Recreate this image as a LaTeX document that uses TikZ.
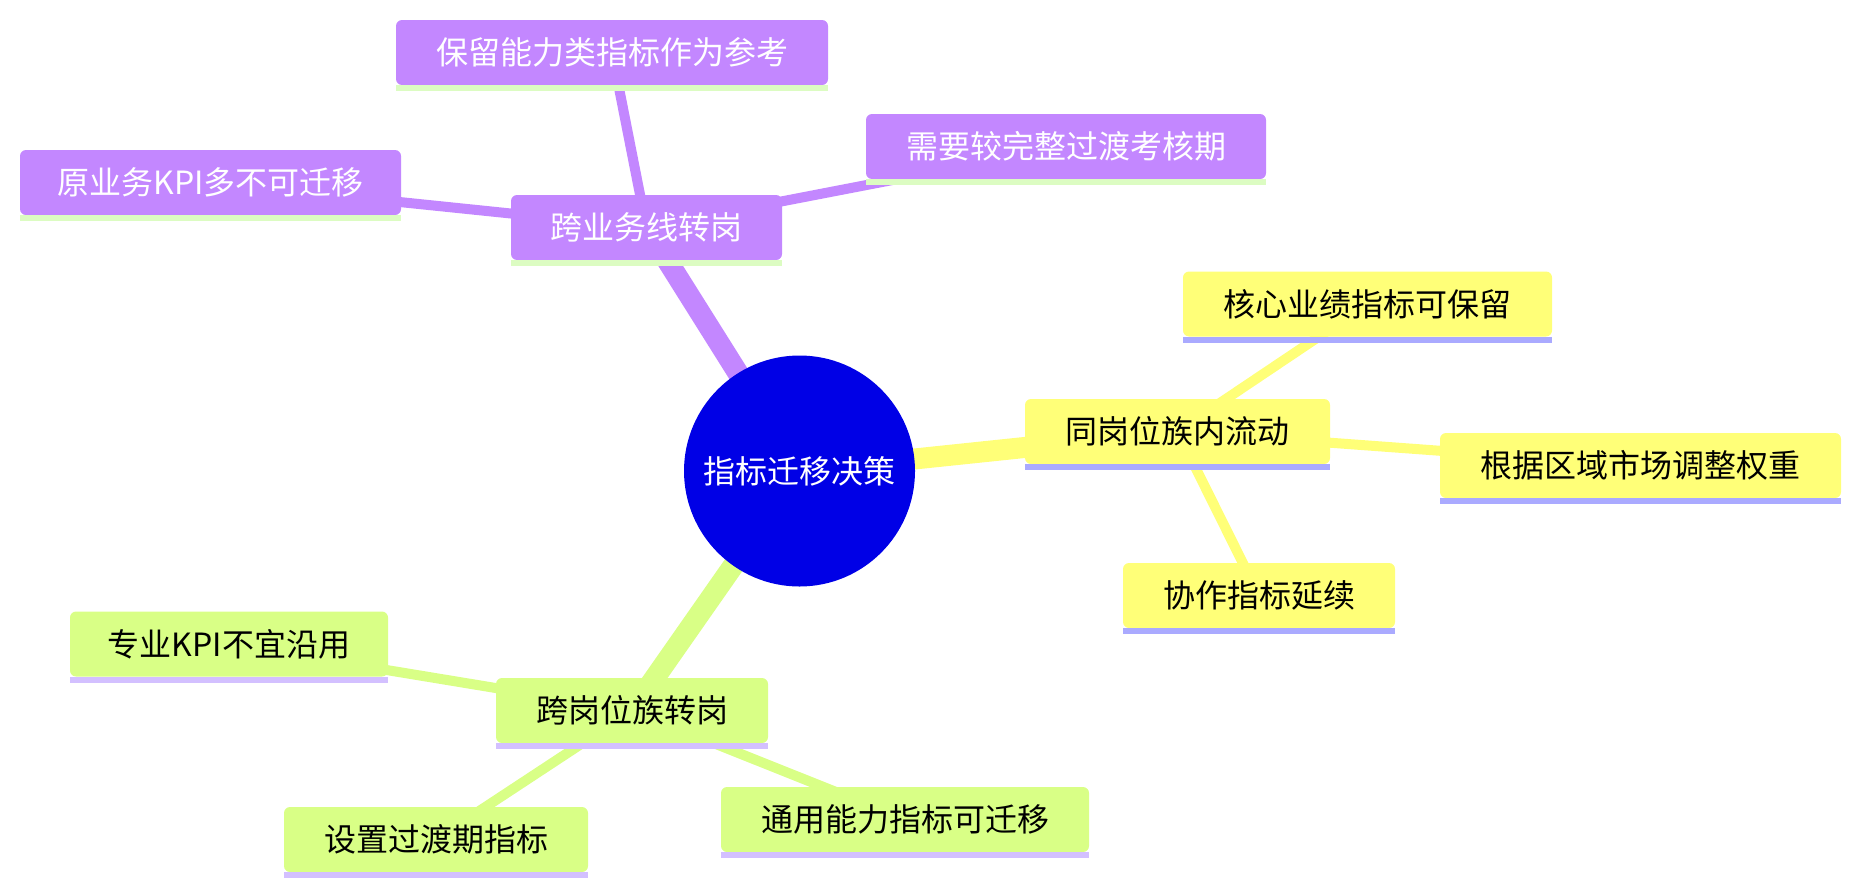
\documentclass[tikz,border=0pt]{standalone}
\usepackage{fontspec}
\setmainfont{Noto Sans CJK SC}
\usetikzlibrary{backgrounds}
\definecolor{croot}{HTML}{0000E6}
\definecolor{cpur}{HTML}{C387FF}
\definecolor{cyel}{HTML}{FFFF78}
\definecolor{cgrn}{HTML}{D9FF86}
\definecolor{ulpur}{HTML}{DCFCC2}
\definecolor{ulyel}{HTML}{AAAAFF}
\definecolor{ulgrn}{HTML}{D3C0FF}
\begin{document}
\begin{tikzpicture}[x=1pt,y=-1pt,
  box/.style={rounded corners=6pt, minimum height=65pt, inner sep=0pt, font=\fontsize{32}{38}\selectfont},
  pbox/.style={box, fill=cpur, text=white},
  ybox/.style={box, fill=cyel, text=black},
  gbox/.style={box, fill=cgrn, text=black},
  rootnode/.style={circle, fill=croot, text=white, minimum size=231pt, inner sep=0pt, font=\fontsize{32}{38}\selectfont},
  rootedge/.style={line width=21pt},
  childedge/.style={line width=10pt},
]
\useasboundingbox (0,0) rectangle (1860,894);
\node[rootnode] (root) at (799.5,471) {指标迁移决策};

\node[pbox, minimum width=271pt] (p) at (646.5,227.5) {跨业务线转岗};
\node[pbox, minimum width=432pt] (p1) at (612,52.5) {保留能力类指标作为参考};
\node[pbox, minimum width=381pt] (p2) at (210.5,182.5) {原业务KPI多不可迁移};
\node[pbox, minimum width=400pt] (p3) at (1066,146.5) {需要较完整过渡考核期};

\node[ybox, minimum width=305pt] (y) at (1177.5,431.5) {同岗位族内流动};
\node[ybox, minimum width=369pt] (y1) at (1367.5,304) {核心业绩指标可保留};
\node[ybox, minimum width=401pt] (y2) at (1640.5,465.5) {根据区域市场调整权重};
\node[ybox, minimum width=272pt] (y3) at (1259,595.5) {协作指标延续};

\node[gbox, minimum width=272pt] (g) at (632,710.5) {跨岗位族转岗};
\node[gbox, minimum width=318pt] (g1) at (229,644) {专业KPI不宜沿用};
\node[gbox, minimum width=304pt] (g2) at (436,839.5) {设置过渡期指标};
\node[gbox, minimum width=368pt] (g3) at (905,819.5) {通用能力指标可迁移};

\foreach \n in {p,p1,p2,p3}{\fill[ulpur] (\n.south west) rectangle ([yshift=-6pt]\n.south east);}
\foreach \n in {y,y1,y2,y3}{\fill[ulyel] (\n.south west) rectangle ([yshift=-6pt]\n.south east);}
\foreach \n in {g,g1,g2,g3}{\fill[ulgrn] (\n.south west) rectangle ([yshift=-6pt]\n.south east);}

\begin{scope}[on background layer]
\draw[rootedge, cpur] (root.center) -- (p.center);
\draw[rootedge, cyel] (root.center) -- (y.center);
\draw[rootedge, cgrn] (root.center) -- (g.center);
\draw[childedge, cpur] (p.center) -- (p1.center);
\draw[childedge, cpur] (p.center) -- (p2.center);
\draw[childedge, cpur] (p.center) -- (p3.center);
\draw[childedge, cyel] (y.center) -- (y1.center);
\draw[childedge, cyel] (y.center) -- (y2.center);
\draw[childedge, cyel] (y.center) -- (y3.center);
\draw[childedge, cgrn] (g.center) -- (g1.center);
\draw[childedge, cgrn] (g.center) -- (g2.center);
\draw[childedge, cgrn] (g.center) -- (g3.center);
\end{scope}
\end{tikzpicture}
\end{document}
